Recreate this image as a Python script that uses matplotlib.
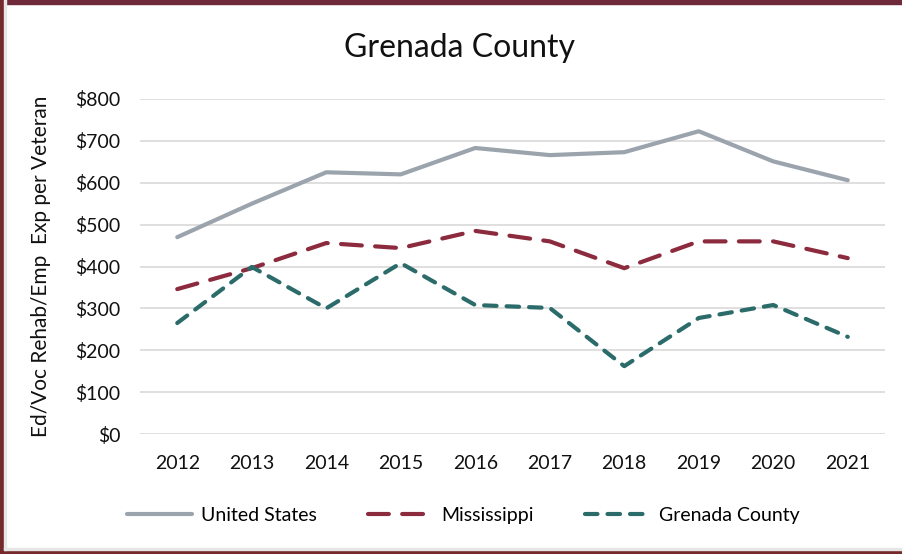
import matplotlib
matplotlib.use('Agg')
import matplotlib.pyplot as plt
from matplotlib.patches import Rectangle
from matplotlib.ticker import FuncFormatter

plt.rcParams['font.family'] = ['Lato', 'DejaVu Sans']

# Data
years = ['2012', '2013', '2014', '2015', '2016', '2017', '2018', '2019', '2020', '2021']
united_states = [470, 550, 625, 620, 683, 666, 673, 723, 651, 606]
mississippi = [346, 396, 456, 444, 485, 460, 396, 460, 460, 420]
grenada = [265, 399, 300, 408, 308, 301, 162, 277, 308, 232]

c_us = '#9ba4ad'
c_ms = '#8c2a3e'
c_gc = '#2b6b6a'

fig = plt.figure(figsize=(9.03, 5.54), dpi=100)
ax = fig.add_axes([140 / 903, 1 - 434 / 554, 745 / 903, 335 / 554])

x = range(len(years))
ax.plot(x, united_states, color=c_us, lw=3, solid_capstyle='round', label='United States')
ax.plot(x, mississippi, color=c_ms, lw=3, dash_capstyle='round', dashes=(5.0, 3.2), label='Mississippi')
ax.plot(x, grenada, color=c_gc, lw=3, dash_capstyle='round', dashes=(3.0, 2.4), label='Grenada County')

ax.set_xlim(-0.5, len(years) - 0.5)
ax.set_ylim(0, 800)
ax.set_yticks(range(0, 801, 100))
ax.yaxis.set_major_formatter(FuncFormatter(lambda v, p: f'${int(v)}'))
ax.set_xticks(list(x))
ax.set_xticklabels(years)
ax.grid(axis='y', color='#d9d9d9', lw=1.2)
ax.set_axisbelow(True)
for s in ax.spines.values():
    s.set_visible(False)
ax.tick_params(length=0, labelsize=14, colors='#111111')
ax.tick_params(axis='y', pad=14)
ax.tick_params(axis='x', pad=15)

ax.set_ylabel('Ed/Voc Rehab/Emp  Exp per Veteran', fontsize=15, color='#111111')
ax.yaxis.set_label_coords(-(140 - 51) / 745, 0.5)
fig.text(0.509, 0.913, 'Grenada County', ha='center', va='center', fontsize=23, color='#111111')

fig.legend(loc='center', bbox_to_anchor=(0.513, 0.07), ncol=3, frameon=False,
           fontsize=14, handlelength=3.3, columnspacing=2.6, handletextpad=0.5)

# maroon frame round the picture
frame = '#6e2a3a'
fig.patches.append(Rectangle((0, 1 - 4 / 554), 1, 4 / 554, transform=fig.transFigure, color=frame))
fig.patches.append(Rectangle((0, 0), 4 / 903, 1, transform=fig.transFigure, color='#74292c'))
fig.patches.append(Rectangle((0, 0), 1, 4 / 554, transform=fig.transFigure, color='#74292c'))
fig.patches.append(Rectangle((4 / 903, 4 / 554), 1, 2 / 554, transform=fig.transFigure, color='#e6e6e6'))
fig.patches.append(Rectangle((4 / 903, 4 / 554), 2 / 903, 1, transform=fig.transFigure, color='#e6e6e6'))

fig.savefig('out.png', dpi=100)
